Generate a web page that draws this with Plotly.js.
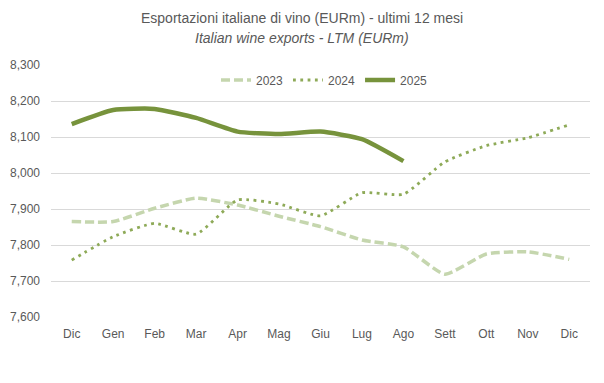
<!DOCTYPE html>
<html>
<head>
<meta charset="utf-8">
<script src="https://cdn.plot.ly/plotly-3.0.1.min.js"></script>
<style>html,body{margin:0;padding:0;background:#fff;}#chart{width:604px;height:383px;}</style>
</head>
<body>
<div id="chart"></div>
<script>
const months = ["Dic","Gen","Feb","Mar","Apr","Mag","Giu","Lug","Ago","Sett","Ott","Nov","Dic"];
const monthIndex = [0,1,2,3,4,5,6,7,8,9,10,11,12];
const series2023 = [7865,7865,7902,7930,7911,7880,7851,7814,7795,7719,7775,7781,7760];
const series2024 = [7758,7823,7860,7830,7925,7914,7881,7945,7941,8031,8076,8098,8134];
const series2025 = [8136,8175,8178,8153,8115,8108,8115,8094,8033];
const yTicks = [7600,7700,7800,7900,8000,8100,8200,8300];
const titleLine1 = "Esportazioni italiane di vino (EURm) - ultimi 12 mesi";
const titleLine2 = "Italian wine exports - LTM (EURm)";

const traces = [
  {x: monthIndex, y: series2023, name: "2023", mode: "lines",
   line: {color: "#C5D6AE", width: 3.5, dash: "9px,4px", shape: "spline", smoothing: 0.5}},
  {x: monthIndex, y: series2024, name: "2024", mode: "lines",
   line: {color: "#8EAA58", width: 2.8, dash: "2.8px,4.5px", shape: "spline", smoothing: 0.5}},
  {x: monthIndex.slice(0, series2025.length), y: series2025, name: "2025", mode: "lines",
   line: {color: "#77933C", width: 4.5, shape: "spline", smoothing: 0.5}}
];

const titleFont = {family: "Liberation Sans Narrow, Arial Narrow, sans-serif", size: 14, color: "#595959"};

const layout = {
  width: 604, height: 383,
  margin: {l: 51, r: 14, t: 65, b: 66},
  paper_bgcolor: "#fff", plot_bgcolor: "#fff",
  font: {family: "Liberation Sans, Arial, sans-serif", size: 12, color: "#595959"},
  annotations: [
    {text: titleLine1, xref: "paper", yref: "paper", x: (302 - 51) / 539, xanchor: "center",
     y: 1 + (65 - 18) / 252, yanchor: "middle", showarrow: false, font: titleFont},
    {text: "<i>" + titleLine2 + "</i>", xref: "paper", yref: "paper", x: (302 - 51) / 539, xanchor: "center",
     y: 1 + (65 - 38) / 252, yanchor: "middle", showarrow: false, font: titleFont}
  ],
  xaxis: {
    range: [-0.5, 12.5], tickvals: monthIndex, ticktext: months,
    showgrid: false, zeroline: false, showline: false, ticks: "",
    fixedrange: true, ticklabelstandoff: 8
  },
  yaxis: {
    range: [7600, 8300], tickvals: yTicks, tickformat: ",d",
    showgrid: true, gridcolor: "#D9D9D9", gridwidth: 1,
    zeroline: false, showline: false, ticks: "", ticklabelstandoff: 10
  },
  legend: {
    orientation: "h", x: 0.5 + 4/539, xanchor: "center", y: 1 - 15/252, yanchor: "middle",
    font: {size: 12, color: "#595959"}, bgcolor: "rgba(0,0,0,0)", itemwidth: 30
  },
  showlegend: true
};

Plotly.newPlot("chart", traces, layout, {displayModeBar: false, staticPlot: true});
</script>
</body>
</html>
